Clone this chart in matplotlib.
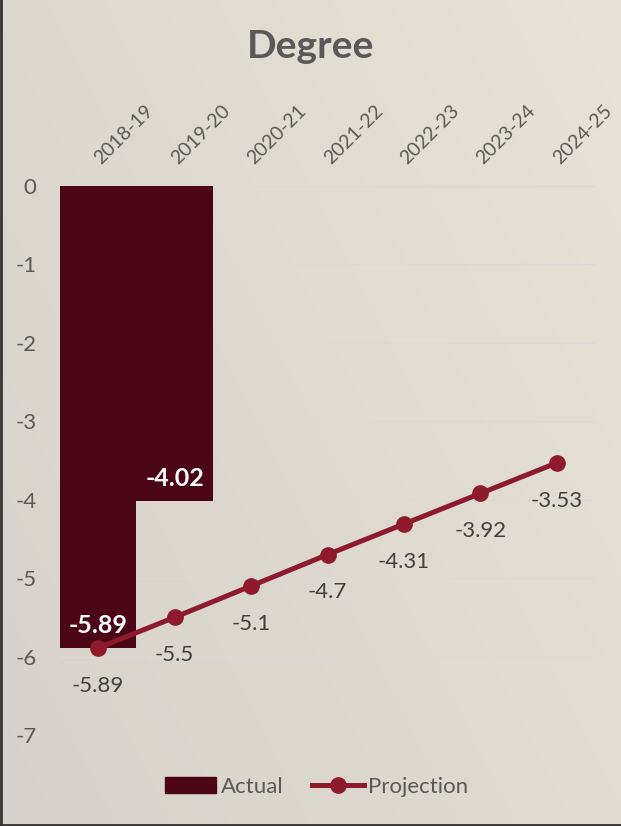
import matplotlib
matplotlib.use("Agg")
import matplotlib.pyplot as plt
import numpy as np
from matplotlib.lines import Line2D
from matplotlib.patches import Patch

years      = ["2018-19", "2019-20", "2020-21", "2021-22", "2022-23", "2023-24", "2024-25"]
actual     = [-5.89, -4.02]
projection = [-5.89, -5.5, -5.1, -4.7, -4.31, -3.92, -3.53]

bar_color  = "#4c0517"
line_color = "#8e1a2c"
text_color = "#595959"

plt.rcParams["font.family"] = ["Lato", "DejaVu Sans"]

fig = plt.figure(figsize=(6.21, 8.26), dpi=100)

# background gradient
bg = fig.add_axes([0, 0, 1, 1], zorder=-10)
gx, gy = np.meshgrid(np.linspace(0, 1, 200), np.linspace(0, 1, 200))
t = np.clip(0.6 * gx + 0.4 * (1 - gy), 0, 1)
c0 = np.array([0xd6, 0xd1, 0xcb]) / 255.0
c1 = np.array([0xe8, 0xe3, 0xd5]) / 255.0
img = c0[None, None, :] * (1 - t[..., None]) + c1[None, None, :] * t[..., None]
bg.imshow(img, aspect="auto", extent=[0, 1, 0, 1], origin="upper")
bg.plot([0.0015, 0.0015], [0, 1], color="#333333", lw=2, transform=bg.transAxes)
bg.plot([0, 1], [0.0015, 0.0015], color="#333333", lw=2, transform=bg.transAxes)
bg.set_xlim(0, 1)
bg.set_ylim(0, 1)
bg.axis("off")

W, H = 621, 826
ax = fig.add_axes([60 / W, 1 - 735 / H, (595 - 60) / W, (735 - 186) / H])
ax.patch.set_alpha(0)

x = np.arange(len(years))
ax.bar(x[:len(actual)], actual, width=1.0, color=bar_color, zorder=2)
ax.plot(x, projection, color=line_color, lw=3.6, marker="o", markersize=11, zorder=3)

for i, v in enumerate(actual):
    ax.annotate(f"{v:.2f}", (x[i], v), xytext=(0, 8), textcoords="offset points",
                ha="center", va="bottom", color="white", fontsize=18, fontweight="bold", zorder=4)
for i, v in enumerate(projection):
    ax.annotate(f"{v:g}", (x[i], v), xytext=(0, -20), textcoords="offset points",
                ha="center", va="top", color="#404040", fontsize=16, zorder=4)

ax.set_xlim(-0.5, len(years) - 0.5)
ax.set_ylim(-7, 0)
ax.set_yticks(np.arange(0, -8, -1))
ax.set_yticklabels([str(v) for v in range(0, -8, -1)])
ax.grid(axis="y", color="#d9d9d9", lw=1, zorder=0)
ax.set_axisbelow(True)
for s in ax.spines.values():
    s.set_visible(False)
ax.tick_params(axis="y", length=0, pad=17, labelsize=16, labelcolor=text_color)

ax.set_xticks([])
for i, lab in enumerate(years):
    ax.text(x[i] + 0.07, 0.24, lab, rotation=45, rotation_mode="anchor", ha="left", va="bottom",
            color=text_color, fontsize=14)

fig.text(0.5, 1 - 47 / H, "Degree", ha="center", va="center", fontsize=28,
         fontweight="bold", color=text_color)

handles = [Patch(color=bar_color, label="Actual"),
           Line2D([0], [0], color=line_color, lw=3.6, marker="o", markersize=11, label="Projection")]
fig.legend(handles=handles, loc="center", bbox_to_anchor=(0.51, 1 - 787 / H), ncol=2,
           frameon=False, fontsize=16, labelcolor=text_color, handlelength=2.3,
           handletextpad=0.2, columnspacing=1.3)

fig.savefig("out.png", dpi=100)
